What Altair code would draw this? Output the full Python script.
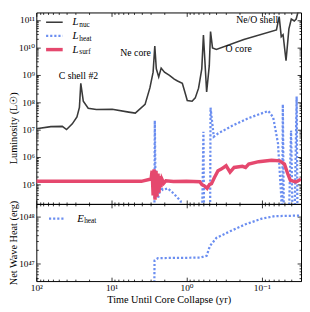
import altair as alt
import pandas as pd

FONT = "Liberation Serif, Times New Roman, DejaVu Serif, serif"

# ---------------- data ----------------
nuc_t = [100, 64.0, 45.1, 39.6, 33.2, 28.8, 26.7, 25.6, 23.7, 20.4, 15.9, 9.77, 5.89, 4.82,
         3.57, 3.08, 2.79, 2.65, 2.53, 2.35, 2.18, 1.97, 1.69, 1.46, 1.32, 1.14, 1.03, 0.98,
         0.845, 0.767, 0.693, 0.628, 0.597, 0.541, 0.499, 0.480, 0.452, 0.402, 0.173, 0.0637,
         0.0586, 0.0550, 0.0520, 0.0475, 0.0435, 0.0404, 0.0369, 0.0348, 0.0328, 0.0300]
nuc_L = [1.08e7, 1.28e7, 1.31e7, 1.0e7, 1.62e7, 2.88e7, 6.46e7, 4.85e8, 1.08e8, 6.03e7, 5.37e7,
         5.50e7, 4.33e7, 3.98e7, 8.32e7, 3.31e8, 1.24e9, 1.10e10, 1.64e9, 8.32e8, 1.74e9, 1.24e9,
         9.55e8, 6.92e8, 5.89e8, 4.85e8, 1.86e8, 1.15e8, 1.08e8, 1.43e8, 3.24e8, 1.64e9, 2.82e10,
         2.34e8, 2.14e9, 3.72e10, 9.55e9, 8.32e9, 1.91e10, 4.27e10, 1.32e11, 2.45e10, 2.88e10,
         3.24e9, 4.68e10, 1.07e11, 9.12e10, 1.07e11, 2.0e11, 2.0e11]

heat_t = [2.69, 2.65, 2.59, 2.40, 2.20, 2.07, 1.78, 1.49, 1.20, 1.11, 0.628, 0.597, 0.583, 0.488,
          0.480, 0.435, 0.382, 0.244, 0.149, 0.0818, 0.0705, 0.0608, 0.0550, 0.0536, 0.0524,
          0.0505, 0.0442, 0.0407, 0.0392, 0.0369, 0.0343, 0.0333, 0.0300]
heat_L = [1e3, 2.14e7, 7.9e4, 3.2e4, 7.9e4, 6.3e4, 7.2e4, 4.7e4, 2.5e4, 7e3, 1e3, 8.3e6, 1e3, 1e3,
          6.3e7, 5.5e6, 7.2e6, 1.41e7, 2.63e7, 4.79e7, 2.82e7, 3.16e6, 3.6e4, 1e3, 8.3e7,
          1e3, 1e3, 9.3e6, 2.5e4, 1e3, 1.62e8, 1e3, 1e3]

surf_t = [100, 30, 10, 4, 2.97, 2.88, 2.79, 2.71, 2.63, 2.55, 2.48, 2.40, 2.33, 2.26, 2.20,
          2.13, 2.01, 1.89, 1.5, 1.0, 0.667, 0.628, 0.569, 0.533, 0.494, 0.466, 0.426, 0.382,
          0.346, 0.298, 0.264, 0.233, 0.181, 0.164, 0.149, 0.110, 0.074, 0.0578, 0.0498,
          0.0451, 0.0416, 0.0351, 0.0300]
surf_L = [1.31e5, 1.30e5, 1.31e5, 1.30e5, 1.58e5, 3.16e5, 4.0e4, 3.55e5, 2.8e4, 3.16e5, 3.55e4,
          2.51e5, 5.0e4, 2.0e5, 7.9e4, 1.58e5, 1.12e5, 1.35e5, 1.28e5, 1.31e5, 1.26e5, 1.0e5,
          8.5e4, 7.24e4, 1.0e5, 1.07e5, 1.78e5, 3.16e5, 3.63e5, 4.79e5, 2.82e5, 4.17e5, 4.57e5,
          4.17e5, 5.5e5, 6.76e5, 7.59e5, 7.24e5, 5.5e5, 2.45e5, 1.41e5, 1.23e5, 1.55e5]

eheat_t = [2.71, 2.67, 2.40, 0.661, 0.541, 0.490, 0.402, 0.270, 0.164, 0.100, 0.0673, 0.0318]
eheat_E = [1e46, 1.17e47, 1.31e47, 1.34e47, 1.47e47, 2.35e47, 3.47e47, 4.73e47, 6.76e47,
           8.85e47, 1.0e48, 1.03e48]

ann_text = ["C shell #2", "Ne core", "O core", "Ne/O shell"]
ann_t = [27.5, 4.78, 0.203, 0.115]
ann_L = [8.8e8, 6.3e9, 8.4e9, 9.5e10]

x_domain = [0.030, 100]
lum_domain = [1.95e4, 1.86e11]
erg_domain = [4.3e46, 1.81e48]

x_major = [100, 10, 1, 0.1]
x_minor = [m * d for d in [0.01, 0.1, 1, 10] for m in range(2, 10) if 0.030 <= m * d <= 100]
lum_major = [1e5, 1e6, 1e7, 1e8, 1e9, 1e10, 1e11]
lum_minor = [m * 10.0 ** e for e in range(4, 11) for m in range(2, 10)
             if lum_domain[0] <= m * 10.0 ** e <= lum_domain[1]]
erg_major = [1e47, 1e48]
erg_minor = [m * 10.0 ** e for e in range(46, 49) for m in range(2, 10)
             if erg_domain[0] <= m * 10.0 ** e <= erg_domain[1]]

C_NUC = "#3a3a3a"
C_HEAT = "#6b8ef0"
C_SURF = "#e5486e"

W, H1, H2 = 271, 196, 79

SUP = {"0": "⁰", "1": "¹", "2": "²", "3": "³", "4": "⁴", "5": "⁵", "6": "⁶",
       "7": "⁷", "8": "⁸", "9": "⁹", "-": "⁻"}


def pow_label_expr(exps):
    lg = "(log(datum.value)/LN10)"
    expr = "''"
    for e in exps:
        lab = "10" + "".join(SUP[c] for c in str(e))
        expr = f"round({lg}) == {e} ? '{lab}' : ({expr})"
    return expr


def ax(orient, values, size, label_exps=None, title=None, **kw):
    d = dict(orient=orient, values=values, tickSize=size, offset=-size, domain=False,
             grid=False, tickColor="black", tickWidth=0.8, labelOverlap=False,
             labelFlush=False, title=title)
    if label_exps is None:
        d["labels"] = False
    else:
        d["labels"] = True
        d["labelExpr"] = pow_label_expr(label_exps)
        d["labelPadding"] = 2
        d["labelFontSize"] = 9.5
        d["labelFont"] = FONT
    d.update(kw)
    return alt.Axis(**d)


xs = alt.Scale(type="log", domain=x_domain, reverse=True, nice=False)
ys_lum = alt.Scale(type="log", domain=lum_domain, nice=False)
ys_erg = alt.Scale(type="log", domain=erg_domain, nice=False)

one = pd.DataFrame({"k": [0]})


def leg_rule(x1, x2, y, color, width, dash=None):
    kw = dict(color=color, strokeWidth=width)
    if dash is not None:
        kw["strokeDash"] = dash
        kw["strokeCap"] = "butt"
    return alt.Chart(one).mark_rule(**kw).encode(
        x=alt.value(x1), x2=alt.value(x2), y=alt.value(y))


def leg_text(x, y, main, sub):
    a = alt.Chart(one).mark_text(text=main, font=FONT, fontStyle="italic", fontSize=11,
                                 align="left", baseline="middle", color="black").encode(
        x=alt.value(x), y=alt.value(y))
    b = alt.Chart(one).mark_text(text=sub, font=FONT, fontSize=7.5, align="left",
                                 baseline="middle", color="black").encode(
        x=alt.value(x + 7), y=alt.value(y + 3))
    return [a, b]


# ---------------- top panel ----------------
df_nuc = pd.DataFrame({"t": nuc_t, "L": nuc_L})
df_heat = pd.DataFrame({"t": heat_t, "L": heat_L})
df_surf = pd.DataFrame({"t": surf_t, "L": surf_L})
df_ann = pd.DataFrame({"t": ann_t, "L": ann_L, "txt": ann_text})

nuc = alt.Chart(df_nuc).mark_line(color=C_NUC, strokeWidth=1.6, clip=True).encode(
    x=alt.X("t:Q", scale=xs, axis=ax("bottom", x_major, 4)),
    y=alt.Y("L:Q", scale=ys_lum,
            axis=ax("left", lum_major, 4, label_exps=list(range(5, 12)),
                    title="Luminosity (L☉)", titlePadding=0, titleY=118,
                    titleFontSize=10.5, titleFont=FONT, titleFontWeight="normal")))
heat = alt.Chart(df_heat).mark_line(color=C_HEAT, strokeWidth=2.3, strokeDash=[2.2, 2.0],
                                    strokeCap="butt", clip=True).encode(
    x=alt.X("t:Q", scale=xs, axis=ax("top", x_major, 4)),
    y=alt.Y("L:Q", scale=ys_lum, axis=ax("right", lum_major, 4)))
surf = alt.Chart(df_surf).mark_line(color=C_SURF, strokeWidth=3.5, clip=True).encode(
    x=alt.X("t:Q", scale=xs, axis=ax("bottom", x_minor, 2)),
    y=alt.Y("L:Q", scale=ys_lum, axis=ax("left", lum_minor, 2)))
ann = alt.Chart(df_ann).mark_text(font=FONT, fontSize=10, color="black", align="center",
                                  baseline="middle").encode(
    x=alt.X("t:Q", scale=xs, axis=ax("top", x_minor, 2)),
    y=alt.Y("L:Q", scale=ys_lum, axis=ax("right", lum_minor, 2)),
    text="txt:N")

top_leg = [leg_rule(10, 27, 10, C_NUC, 1.6), *leg_text(37, 10, "L", "nuc"),
           leg_rule(10, 27, 24, C_HEAT, 2.3, [2.2, 2.0]), *leg_text(37, 24, "L", "heat"),
           leg_rule(10, 27, 38, C_SURF, 3.5), *leg_text(37, 38, "L", "surf")]

top = alt.layer(nuc, heat, surf, ann, *top_leg).resolve_scale(
    x="shared", y="shared").resolve_axis(x="independent", y="independent").properties(
    width=W, height=H1)

# ---------------- bottom panel ----------------
df_e = pd.DataFrame({"t": eheat_t, "E": eheat_E})

e_line = alt.Chart(df_e).mark_line(color=C_HEAT, strokeWidth=2.3, strokeDash=[2.2, 2.0],
                                   strokeCap="butt", clip=True).encode(
    x=alt.X("t:Q", scale=xs,
            axis=ax("bottom", x_major, 4, label_exps=[2, 1, 0, -1],
                    title="Time Until Core Collapse (yr)", titlePadding=2,
                    titleFontSize=10.5, titleFont=FONT, titleFontWeight="normal")),
    y=alt.Y("E:Q", scale=ys_erg,
            axis=ax("left", erg_major, 4, label_exps=[47, 48],
                    title="Net Wave Heat (erg)", titlePadding=0,
                    titleFontSize=10.5, titleFont=FONT, titleFontWeight="normal")))


def ghost(xo, xv, xs_size, yo, yv, ys_size):
    return alt.Chart(df_e).mark_line(strokeOpacity=0, clip=True).encode(
        x=alt.X("t:Q", scale=xs, axis=ax(xo, xv, xs_size)),
        y=alt.Y("E:Q", scale=ys_erg, axis=ax(yo, yv, ys_size)))


bot_leg = [leg_rule(13, 28, 15, C_HEAT, 2.3, [2.2, 2.0]), *leg_text(42, 15, "E", "heat")]

bottom = alt.layer(
    e_line,
    ghost("top", x_major, 4, "right", erg_major, 4),
    ghost("bottom", x_minor, 2, "left", erg_minor, 2),
    ghost("top", x_minor, 2, "right", erg_minor, 2),
    *bot_leg,
).resolve_scale(x="shared", y="shared").resolve_axis(
    x="independent", y="independent").properties(width=W, height=H2)

chart = alt.vconcat(top, bottom, spacing=0, bounds="flush").properties(padding=0).configure_view(
    stroke="black", strokeWidth=1).configure_axis(
    labelFont=FONT, titleFont=FONT, labelColor="black", titleColor="black",
    titleFontWeight="normal")

chart.save("out.html", embed_options={"renderer": "svg", "actions": False})
